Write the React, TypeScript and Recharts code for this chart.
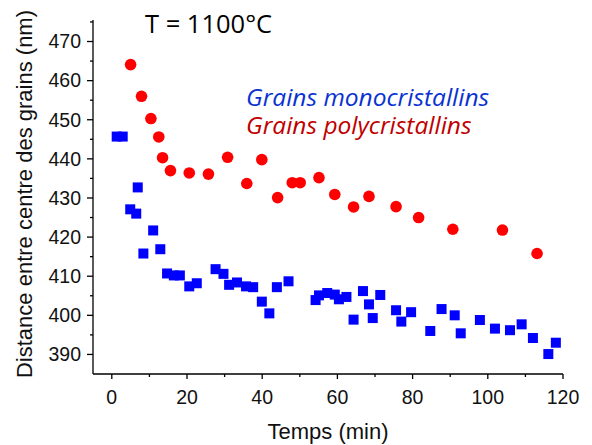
import React from "react";
import { ScatterChart, Scatter, XAxis, YAxis } from "recharts";

// Poly-crystalline grains (red circles)
const polyTime = [5.0, 7.9, 10.4, 12.5, 13.5, 15.6, 20.6, 25.7, 30.8, 35.9, 39.9, 44.1, 48.0, 50.1, 55.1, 59.3, 64.3, 68.4, 75.6, 81.6, 90.7, 103.9, 113.1];
const polyDist = [464.1, 456.0, 450.3, 445.6, 440.3, 437.0, 436.4, 436.1, 440.4, 433.7, 439.8, 430.1, 433.9, 433.9, 435.2, 430.9, 427.7, 430.4, 427.8, 425.0, 422.0, 421.8, 415.8];

// Mono-crystalline grains (blue squares)
const monoTime = [1.3, 2.9, 4.9, 6.5, 6.9, 8.4, 11.0, 12.9, 14.7, 16.5, 18.1, 20.6, 22.6, 27.6, 29.7, 31.2, 33.3, 35.7, 37.6, 39.9, 41.9, 43.9, 47.0, 54.2, 55.1, 57.3, 59.3, 60.4, 62.4, 64.3, 66.8, 68.4, 69.4, 71.4, 75.6, 77.0, 79.6, 84.7, 87.7, 91.2, 92.8, 97.9, 101.9, 105.9, 109.0, 112.0, 116.1, 118.1];
const monoDist = [445.7, 445.7, 427.1, 426.0, 432.7, 415.8, 421.7, 416.9, 410.7, 410.2, 410.2, 407.4, 408.2, 411.8, 410.6, 407.8, 408.4, 407.4, 407.2, 403.5, 400.5, 407.2, 408.7, 403.9, 405.1, 405.7, 405.3, 404.1, 404.7, 398.9, 406.2, 402.8, 399.3, 405.2, 401.3, 398.4, 400.8, 396.0, 401.6, 400.0, 395.4, 398.8, 396.6, 396.2, 397.7, 394.2, 390.1, 393.0];

const xTicks = [0, 10, 20, 30, 40, 50, 60, 70, 80, 90, 100, 110, 120];
const xLabels = [0, 20, 40, 60, 80, 100, 120];
const yTicks = [390, 395, 400, 405, 410, 415, 420, 425, 430, 435, 440, 445, 450, 455, 460, 465, 470, 475];
const yLabels = [390, 400, 410, 420, 430, 440, 450, 460, 470];

const title = "T = 1100°C";
const monoName = "Grains monocristallins";
const polyName = "Grains polycristallins";
const xTitle = "Temps (min)";
const yTitle = "Distance entre centre des grains (nm)";

const polyData = polyTime.map((t, i) => ({ t, d: polyDist[i] }));
const monoData = monoTime.map((t, i) => ({ t, d: monoDist[i] }));

const AXIS_FONT = "'Liberation Sans', Arial, sans-serif";
const NOTE_FONT = "'Open Sans', Lato, sans-serif";

const XTick = (props: any) => {
  const { x, y, payload } = props;
  const major = xLabels.includes(payload.value);
  return (
    <g>
      <line x1={x} x2={x} y1={y} y2={y + (major ? 5 : 3)} stroke="#000" strokeWidth={1.3} />
      {major && (
        <text x={x} y={y + 30} textAnchor="middle" fontFamily={AXIS_FONT} fontSize={19.5} fill="#111">
          {payload.value}
        </text>
      )}
    </g>
  );
};

const YTick = (props: any) => {
  const { x, y, payload } = props;
  const major = yLabels.includes(payload.value);
  return (
    <g>
      <line x1={x - (major ? 6 : 3)} x2={x} y1={y} y2={y} stroke="#000" strokeWidth={1.3} />
      {major && (
        <text x={x - 12} y={y} dy="0.35em" textAnchor="end" fontFamily={AXIS_FONT} fontSize={19.5} fill="#111">
          {payload.value}
        </text>
      )}
    </g>
  );
};

const YTitle = (props: any) => {
  const vb = props.viewBox || { x: 0, y: 20, width: 93, height: 354 };
  const cx = vb.x + 32;
  const cy = vb.y + vb.height / 2 - 3;
  return (
    <text x={cx} y={cy} transform={`rotate(-90 ${cx} ${cy})`} textAnchor="middle" fontFamily={AXIS_FONT} fontSize={22} fill="#111">
      {yTitle}
    </text>
  );
};

const Square = (p: any) => <rect x={p.cx - 5} y={p.cy - 5} width={10} height={10} fill="#0000ff" />;
const Dot = (p: any) => <circle cx={p.cx} cy={p.cy} r={5.8} fill="#ff0000" />;

export default function App() {
  return (
    <div style={{ position: "absolute", left: 0, top: 0, width: 592, height: 445, background: "#fff" }}>
      <ScatterChart width={592} height={445} margin={{ top: 20, right: 29, bottom: 0, left: 0 }}>
        <XAxis
          type="number"
          dataKey="t"
          domain={[-5, 120]}
          allowDataOverflow
          ticks={xTicks}
          interval={0}
          height={71}
          tickSize={0}
          tickMargin={0}
          tickLine={false}
          axisLine={{ stroke: "#000", strokeWidth: 1.3 }}
          tick={<XTick />}
          label={{ value: xTitle, position: "insideBottom", offset: 6, fontFamily: AXIS_FONT, fontSize: 22, fill: "#111" }}
        />
        <YAxis
          type="number"
          dataKey="d"
          domain={[385, 475.5]}
          allowDataOverflow
          ticks={yTicks}
          interval={0}
          width={93}
          tickSize={0}
          tickMargin={0}
          tickLine={false}
          axisLine={{ stroke: "#000", strokeWidth: 1.3 }}
          tick={<YTick />}
          label={(p: any) => <YTitle {...p} />}
        />
        <Scatter data={monoData} shape={Square} isAnimationActive={false} />
        <Scatter data={polyData} shape={Dot} isAnimationActive={false} />
      </ScatterChart>
      <svg width={592} height={445} style={{ position: "absolute", left: 0, top: 0, pointerEvents: "none" }}>
        <text x={145} y={33} fontFamily={NOTE_FONT} fontSize={25.5} fill="#000">{title}</text>
        <text x={246} y={106} fontFamily={NOTE_FONT} fontStyle="italic" fontSize={24.5} fill="#0a32d2">{monoName}</text>
        <text x={246} y={134} fontFamily={NOTE_FONT} fontStyle="italic" fontSize={24.5} fill="#c00000">{polyName}</text>
      </svg>
    </div>
  );
}
